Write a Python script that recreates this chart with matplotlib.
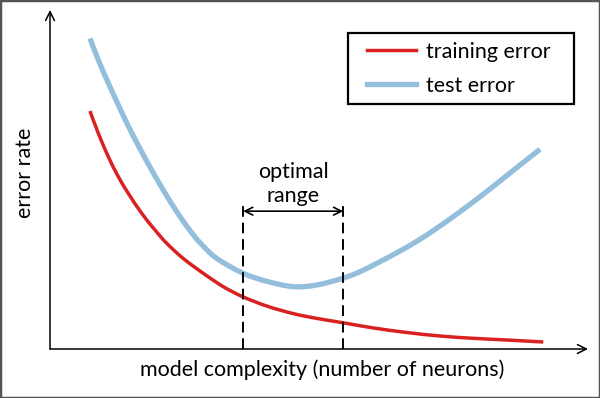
import matplotlib
matplotlib.use("Agg")
import matplotlib.pyplot as plt
from matplotlib.lines import Line2D
from matplotlib.patches import PathPatch, Rectangle
from matplotlib.path import Path

# curve values (x: model complexity, y: error rate, 0..100)
test_x = [7.43, 8.98, 10.84, 12.70, 14.55, 16.41, 18.90, 21.38, 23.85, 26.02,
          27.88, 30.98, 35.82, 40.28, 45.22, 49.57, 54.41, 57.62, 61.34,
          65.06, 68.77, 72.49, 76.21, 79.93, 83.64, 87.36, 91.08]
test_y = [92.20, 85.76, 78.93, 72.40, 66.17, 60.39, 53.12, 46.29, 40.06, 35.18,
          31.55, 26.90, 22.54, 20.09, 18.50, 18.99, 20.98, 22.94, 25.91,
          29.08, 32.55, 36.50, 40.74, 45.19, 49.85, 54.60, 59.26]
train_x = [7.43, 8.98, 10.84, 12.70, 14.55, 17.04, 19.52, 21.69, 24.78, 28.49,
           32.21, 35.82, 40.28, 45.22, 49.57, 54.41, 60.09, 66.30, 72.49,
           78.68, 84.89, 91.69]
train_y = [70.62, 64.01, 57.06, 51.13, 46.20, 40.27, 35.31, 31.37, 26.85,
           22.46, 18.49, 15.52, 12.75, 10.50, 9.09, 7.80, 6.25, 4.90, 3.86,
           3.17, 2.67, 2.08]
opt_lo, opt_hi = 35.9, 54.5
opt_top = 43.3
opt_arrow_y = 40.9

RED = "#d92121"
BLUE = "#93bfdd"
FONT = "Lato"
FS = 15.5


def smooth_path(xs, ys):
    # Catmull-Rom through the read points, as cubic Bezier segments
    pts = list(zip(xs, ys))
    verts = [pts[0]]
    codes = [Path.MOVETO]
    n = len(pts)
    for i in range(n - 1):
        p0 = pts[max(i - 1, 0)]
        p1 = pts[i]
        p2 = pts[i + 1]
        p3 = pts[min(i + 2, n - 1)]
        c1 = (p1[0] + (p2[0] - p0[0]) / 6, p1[1] + (p2[1] - p0[1]) / 6)
        c2 = (p2[0] - (p3[0] - p1[0]) / 6, p2[1] - (p3[1] - p1[1]) / 6)
        verts += [c1, c2, p2]
        codes += [Path.CURVE4] * 3
    return Path(verts, codes)


fig = plt.figure(figsize=(6.0, 3.98), dpi=100)
ax = fig.add_axes([50 / 600, 49 / 398, 538 / 600, 339 / 398])
ax.set_xlim(0, 100)
ax.set_ylim(0, 100.6)
for s in ax.spines.values():
    s.set_visible(False)
ax.set_xticks([])
ax.set_yticks([])

# axes drawn as arrows
ax.annotate("", xy=(1, 0), xytext=(0, 0), xycoords="axes fraction",
            arrowprops=dict(arrowstyle="->", lw=1.1, color="black",
                            mutation_scale=16, shrinkA=0, shrinkB=0))
ax.annotate("", xy=(0, 1), xytext=(0, 0), xycoords="axes fraction",
            arrowprops=dict(arrowstyle="->", lw=1.1, color="black",
                            mutation_scale=16, shrinkA=0, shrinkB=0))

ax.add_patch(PathPatch(smooth_path(train_x, train_y), fill=False,
                       edgecolor=RED, lw=2.5, capstyle="butt", zorder=3))
ax.add_patch(PathPatch(smooth_path(test_x, test_y), fill=False,
                       edgecolor=BLUE, lw=3.8, capstyle="butt", zorder=2))

# optimal range
for xv in (opt_lo, opt_hi):
    ax.plot([xv, xv], [0, opt_top], color="black", lw=1.4,
            dashes=(5.5, 3), zorder=4)
ax.annotate("", xy=(opt_lo, opt_arrow_y), xytext=(opt_hi, opt_arrow_y),
            arrowprops=dict(arrowstyle="<->", lw=1.2, color="black",
                            mutation_scale=14, shrinkA=0, shrinkB=0))
ax.text((opt_lo + opt_hi) / 2, 42.3, "optimal\nrange", ha="center",
        va="bottom", fontsize=FS, family=FONT, linespacing=1.3)

fig.text(322 / 600, 1 - 370 / 398, "model complexity (number of neurons)",
         ha="center", va="center", fontsize=FS, family=FONT)
fig.text(25 / 600, 1 - 173 / 398, "error rate", ha="center", va="center",
         rotation=90, fontsize=FS, family=FONT)

# legend: entries without frame, box drawn separately
handles = [Line2D([], [], color=RED, lw=2.5, label="training error"),
           Line2D([], [], color=BLUE, lw=3.8, label="test error")]
ax.legend(handles=handles, loc="upper left",
          bbox_to_anchor=(367 / 600, 1 - 42 / 398),
          bbox_transform=fig.transFigure, borderaxespad=0, borderpad=0,
          frameon=False, handlelength=2.28, handletextpad=0.47,
          labelspacing=0.65, prop=dict(family=FONT, size=FS))
fig.patches.append(Rectangle((348 / 600, 1 - 104 / 398), 226 / 600, 71 / 398,
                             transform=fig.transFigure, fill=False,
                             edgecolor="black", lw=1.6))

fig.patches.append(Rectangle((0, 0), 1, 1, transform=fig.transFigure,
                             fill=False, edgecolor="#555555", lw=2.5))

fig.savefig("out.png", dpi=100)
